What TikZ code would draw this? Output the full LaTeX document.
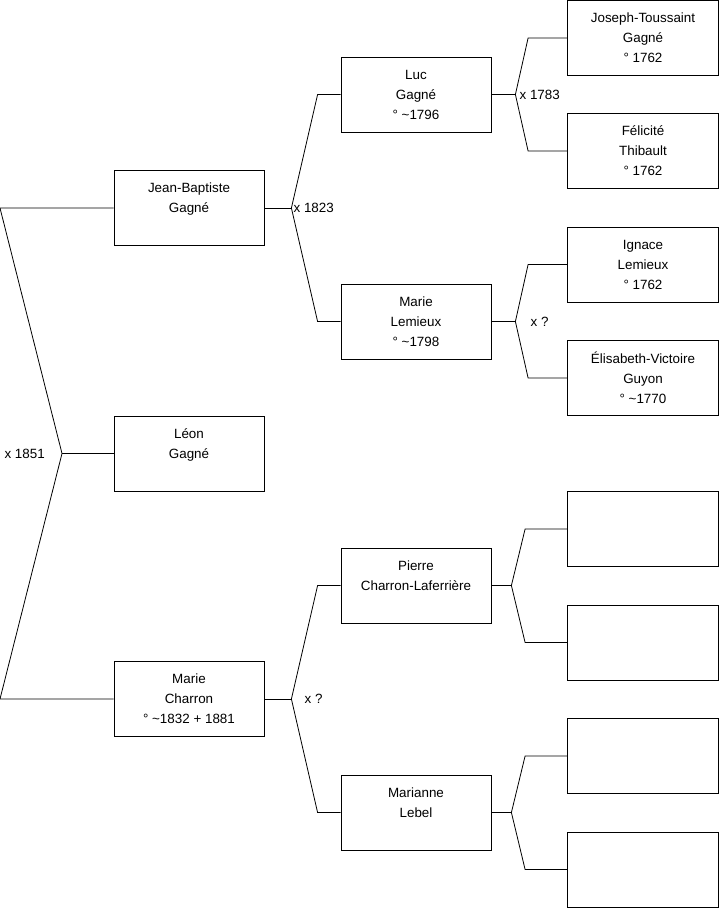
\documentclass[tikz,border=0pt]{standalone}
\usepackage{fontspec}
\setmainfont{Liberation Sans}
\usetikzlibrary{calc, positioning}

\begin{document}
\begin{tikzpicture}[x=1pt, y=-1pt,
      person/.style={draw, line width=0.8pt, minimum width=150pt, minimum height=75pt,
         inner sep=0pt, align=center, font=\fontsize{13.4}{20}\selectfont},
      link/.style={line width=0.8pt},
      union/.style={inner sep=0pt, font=\fontsize{13.4}{16}\selectfont}]
            \useasboundingbox (0,0) rectangle (719,908);
            \coordinate (edge) at (0,0);
            % Generation 1
            \node[person] (leon) at (189,453.5) {Léon\\Gagné\\\mbox{}};
            % Generation 2
            \node[person] (jb) at (189,208) {Jean-Baptiste\\Gagné\\\mbox{}};
            \node[person] (mch) at (189,699) {Marie\\Charron\\° \textasciitilde1832 + 1881};
            % Generation 3
            \node[person] (luc) at (416,94.5) {Luc\\Gagné\\° \textasciitilde1796};
            \node[person] (mlem) at (416,321.5) {Marie\\Lemieux\\° \textasciitilde1798};
            \node[person] (pierre) at (416,585.5) {Pierre\\Charron-Laferrière\\\mbox{}};
            \node[person] (marianne) at (416,812.5) {Marianne\\Lebel\\\mbox{}};
            % Generation 4
            \node[person, minimum width=151pt] (jt) at (643,38) {Joseph-Toussaint\\Gagné\\° 1762};
            \node[person, minimum width=151pt] (fel) at (643,151) {Félicité\\Thibault\\° 1762};
            \node[person, minimum width=151pt] (ign) at (643,264.5) {Ignace\\Lemieux\\° 1762};
            \node[person, minimum width=151pt] (eli) at (643,378) {Élisabeth-Victoire\\Guyon\\° \textasciitilde1770};
            \node[person, minimum width=151pt] (pa) at (643,529) {};
            \node[person, minimum width=151pt] (pb) at (643,642.5) {};
            \node[person, minimum width=151pt] (ma) at (643,756) {};
            \node[person, minimum width=151pt] (mb) at (643,869.5) {};
            % Union 1851
            \coordinate (f1) at (62,453.5);
            \draw[link] (leon.west) -- (f1);
            \draw[link] (jb.west) -- (jb.west -| edge) -- (f1) -- (mch.west -| edge) -- (mch.west);
            \node[union, anchor=east] (u1851) at ([xshift=-17pt]f1) {x 1851};
            % Union 1823
            \coordinate (f2) at ([xshift=27pt]jb.east);
            \draw[link] (jb.east) -- (f2);
            \draw[link] (luc.west) -- ++(-23,0) -- (f2) -- ([xshift=-23pt]mlem.west) -- (mlem.west);
            \node[union, anchor=west] (u1823) at ([xshift=2pt]f2) {x 1823};
            % Union ? (Charron)
            \coordinate (f3) at ([xshift=27pt]mch.east);
            \draw[link] (mch.east) -- (f3);
            \draw[link] (pierre.west) -- ++(-23,0) -- (f3) -- ([xshift=-23pt]marianne.west) -- (marianne.west);
            \node[union, anchor=west] (ucharron) at ([xshift=13pt]f3) {x ?};
            % Union 1783
            \coordinate (f4) at ([xshift=24pt]luc.east);
            \draw[link] (luc.east) -- (f4);
            \draw[link] (jt.west) -- ++(-39,0) -- (f4) -- ([xshift=-39pt]fel.west) -- (fel.west);
            \node[union, anchor=west] (u1783) at ([xshift=4pt]f4) {x 1783};
            % Union ? (Lemieux)
            \coordinate (f5) at ([xshift=24pt]mlem.east);
            \draw[link] (mlem.east) -- (f5);
            \draw[link] (ign.west) -- ++(-39,0) -- (f5) -- ([xshift=-39pt]eli.west) -- (eli.west);
            \node[union, anchor=west] (ulemieux) at ([xshift=15pt]f5) {x ?};
            % Parents of Pierre
            \coordinate (f6) at ([xshift=20pt]pierre.east);
            \draw[link] (pierre.east) -- (f6);
            \draw[link] (pa.west) -- ++(-42,0) -- (f6) -- ([xshift=-42pt]pb.west) -- (pb.west);
            % Parents of Marianne
            \coordinate (f7) at ([xshift=20pt]marianne.east);
            \draw[link] (marianne.east) -- (f7);
            \draw[link] (ma.west) -- ++(-42,0) -- (f7) -- ([xshift=-42pt]mb.west) -- (mb.west);
         \end{tikzpicture}
\end{document}
